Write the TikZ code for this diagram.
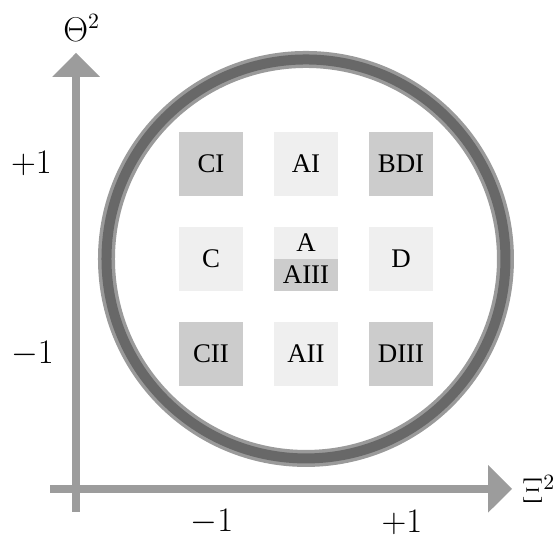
\documentclass[tikz,border=0pt]{standalone}
\usepackage{fontspec}
\newfontfamily\classfont{Liberation Serif}
\usetikzlibrary{arrows.meta}
\definecolor{axisgray}{HTML}{9C9C9C}
\definecolor{ringlight}{HTML}{9A9A9A}
\definecolor{ringdark}{HTML}{686868}
\definecolor{classdark}{HTML}{CCCCCC}
\definecolor{classlight}{HTML}{EFEFEF}
\tikzset{
  axis/.style={line width=4.25bp,axisgray,-{Triangle[length=12bp,width=23bp]}},
  classbox/.style={minimum width=32bp,minimum height=32bp,inner sep=0pt,
    font=\classfont\fontsize{13.5}{15}\selectfont},
  halfbox/.style={classbox,minimum height=16bp},
  ticklabel/.style={inner sep=0pt,font=\fontsize{16}{18}\selectfont}
}
\begin{document}
\begin{tikzpicture}[x=47.5bp,y=47.5bp]
\useasboundingbox (-3.221,-2.937) rectangle (2.653,2.726);
\coordinate (O) at (0,0);
\coordinate (Vb) at (-2.42,-2.66);
\coordinate (Vt) at (-2.42,2.17);
\coordinate (Hl) at (-2.69,-2.42);
\coordinate (Hr) at (2.17,-2.42);

\draw[axis] (Vb) -- (Vt);
\draw[axis] (Hl) -- (Hr);

\draw[ringlight,line width=8.5bp] (O) circle[radius=2.1];
\draw[ringdark,line width=5bp] (O) circle[radius=2.1];

\node[classbox,fill=classdark] (CI) at (-1,1) {CI};
\node[classbox,fill=classlight] (AI) at (0,1) {AI};
\node[classbox,fill=classdark] (BDI) at (1,1) {BDI};
\node[classbox,fill=classlight] (C) at (-1,0) {C};
\node[halfbox,fill=classlight] (A) at (0,0.168) {A};
\node[halfbox,fill=classdark] (AIII) at (0,-0.168) {AIII};
\node[classbox,fill=classlight] (D) at (1,0) {D};
\node[classbox,fill=classdark] (CII) at (-1,-1) {CII};
\node[classbox,fill=classlight] (AII) at (0,-1) {AII};
\node[classbox,fill=classdark] (DIII) at (1,-1) {DIII};

\node[ticklabel] (ytop) at (-2.89,1) {$+1$};
\node[ticklabel] (ybot) at (-2.88,-1) {$-1$};
\node[ticklabel] (xleft) at (-0.99,-2.77) {$-1$};
\node[ticklabel] (xright) at (1.01,-2.77) {$+1$};
\node[ticklabel] (theta) at (-2.36,2.43) {$\Theta^2$};
\node[ticklabel] (xi) at (2.45,-2.42) {$\Xi^2$};
\end{tikzpicture}
\end{document}
